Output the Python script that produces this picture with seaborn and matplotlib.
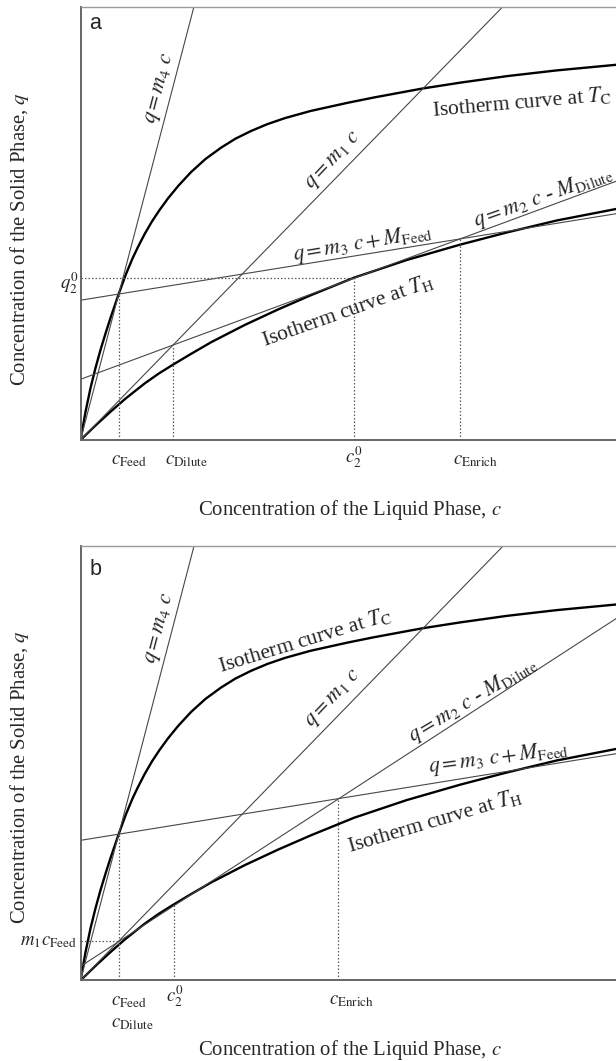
import matplotlib
matplotlib.use("Agg")
import matplotlib.pyplot as plt
import seaborn as sns
import pandas as pd

# Isotherm at T_C (c, q)
tc_c = [0, 0.093, 0.187, 0.280, 0.373, 0.467, 0.560, 0.713, 0.850, 0.971, 1.064,
        1.195, 1.335, 1.475, 1.634, 1.830, 2.064, 2.334, 2.624, 2.894, 3.184,
        3.492, 3.819, 4.295, 4.995, 5.468, 6.377, 7.096, 7.965, 8.893, 10.0]
tc_q = [0, 0.646, 1.200, 1.662, 2.077, 2.458, 2.816, 3.370, 3.831, 4.189, 4.431,
        4.747, 5.045, 5.306, 5.576, 5.871, 6.183, 6.485, 6.746, 6.954, 7.131,
        7.291, 7.429, 7.593, 7.784, 7.902, 8.110, 8.248, 8.398, 8.530, 8.659]

# Isotherm at T_H (c, q)
th_c = [0, 0.280, 0.575, 0.840, 1.199, 1.457, 1.714, 2.054, 2.443, 3.066, 3.688,
        4.310, 5.107, 6.092, 7.100, 7.959, 8.893, 10.0]
th_q = [0, 0.335, 0.669, 0.955, 1.306, 1.530, 1.729, 1.980, 2.259, 2.654, 3.012,
        3.346, 3.746, 4.154, 4.512, 4.789, 5.066, 5.331]

# Operating lines: slopes and intercepts
m4 = 4.72
m1 = 1.268
m3, M_feed = 0.1996, 3.226
m2_a, b2_a = 0.457, 1.401
m2_b, b2_b = 0.801, 0.323

# Characteristic concentrations, panel a
a_c_feed, a_c_dilute, a_c2, a_c_enrich = 0.713, 1.727, 5.107, 7.09
a_q2 = 3.746
# Characteristic concentrations, panel b
b_c_feed, b_c2, b_c_enrich = 0.713, 1.746, 4.814
b_q2_on_th = 1.745
b_m1_cfeed = m1 * b_c_feed

sns.set_theme(style="white")
plt.rcParams["font.family"] = ["Liberation Serif", "DejaVu Serif"]
plt.rcParams["mathtext.fontset"] = "stix"

W, H = 616, 1061
fig = plt.figure(figsize=(W / 100, H / 100), dpi=100)
ax_a = fig.add_axes([80.5 / W, 1 - 440 / H, 535.5 / W, 433.3 / H])
ax_b = fig.add_axes([80.5 / W, 1 - 980.4 / H, 535.5 / W, 434.1 / H])

THIN = dict(color="#474747", lw=0.8)
DOT = dict(colors="#5a5a5a", linestyles=(0, (1.2, 1.6)), lw=0.9)
AFS = 14.9    # axis titles
LFS = 15.6    # in-plot labels
TFS = 13.5    # tick-style labels


def frame(ax):
    ax.set_xlim(0, 10)
    ax.set_ylim(0, 10)
    ax.set_xticks([])
    ax.set_yticks([])
    ax.spines["right"].set_visible(False)
    for s in ("left", "bottom"):
        ax.spines[s].set_color("#666666")
        ax.spines[s].set_linewidth(1.4)
    ax.spines["top"].set_color("#9a9a9a")
    ax.spines["top"].set_linewidth(1.0)
    ax.set_xlabel("")
    ax.set_ylabel("")
    ax.text(0.5027, -0.173, r"Concentration of the Liquid Phase, $c$",
            transform=ax.transAxes, ha="center", va="baseline", fontsize=AFS)


def curves(ax):
    df_c = pd.DataFrame({"c": tc_c, "q": tc_q})
    df_h = pd.DataFrame({"c": th_c, "q": th_q})
    for df in (df_c, df_h):
        sns.lineplot(data=df, x="c", y="q", ax=ax, color="black", lw=1.7,
                     sort=False, estimator=None, solid_joinstyle="round",
                     solid_capstyle="round")
    ax.axline((0, 0), slope=m4, **THIN)
    ax.axline((0, 0), slope=m1, **THIN)
    ax.axline((0, M_feed), slope=m3, **THIN)


def tick_label(ax, x, s, dx=-7.5, dy=-24):
    ax.annotate(s, xy=(x, 0), xytext=(dx, dy), textcoords="offset pixels",
                ha="left", va="baseline", fontsize=TFS, annotation_clip=False)


def ylabel(ax, yfrac):
    ax.text(-0.1036, yfrac, r"Concentration of the Solid Phase, $q$",
            transform=ax.transAxes, rotation=90, rotation_mode="anchor",
            ha="center", va="baseline", fontsize=AFS)


def label(ax, x, y, s, rot):
    ax.text(x, y, s, rotation=rot, ha="center", va="center",
            rotation_mode="anchor", fontsize=LFS)


# ---------------- panel a ----------------
ax = ax_a
curves(ax)
ax.axline((0, b2_a), slope=m2_a, **THIN)
ax.vlines(a_c_feed, 0, M_feed + m3 * a_c_feed, **DOT)
ax.vlines(a_c_dilute, 0, m1 * a_c_dilute, **DOT)
ax.vlines(a_c2, 0, a_q2, **DOT)
ax.vlines(a_c_enrich, 0, M_feed + m3 * a_c_enrich, **DOT)
ax.hlines(a_q2, 0, a_c2, **DOT)
frame(ax)
ylabel(ax, 0.464)
ax.text(0.0168, 0.948, "a", transform=ax.transAxes, ha="left", va="baseline",
        fontsize=15.5, family="Liberation Sans")

tick_label(ax, a_c_feed, r"$c_{\mathrm{Feed}}$")
tick_label(ax, a_c_dilute, r"$c_{\mathrm{Dilute}}$")
tick_label(ax, a_c2, r"$c_2^0$", dx=-8.5, dy=-23)
tick_label(ax, a_c_enrich, r"$c_{\mathrm{Enrich}}$")
ax.annotate(r"$q_2^0$", xy=(0, a_q2), xytext=(-2, -11), textcoords="offset pixels",
            ha="right", va="baseline", fontsize=TFS, annotation_clip=False)

label(ax, 1.50, 8.117, r"$q = m_4\ c$", 75.3)
label(ax, 4.734, 6.43, r"$q = m_1\ c$", 46.5)
label(ax, 8.245, 7.80, r"Isotherm curve at $T_{\mathrm{C}}$", 5)
label(ax, 8.642, 5.597, r"$q = m_2\ c$ - $M_{\mathrm{Dilute}}$", 19.5)
label(ax, 5.276, 4.546, r"$q = m_3\ c + M_{\mathrm{Feed}}$", 9.5)
label(ax, 4.988, 2.989, r"Isotherm curve at $T_{\mathrm{H}}$", 19.5)

# ---------------- panel b ----------------
ax = ax_b
curves(ax)
ax.axline((0, b2_b), slope=m2_b, **THIN)
ax.vlines(b_c_feed, 0, M_feed + m3 * b_c_feed, **DOT)
ax.vlines(b_c2, 0, b_q2_on_th, **DOT)
ax.vlines(b_c_enrich, 0, M_feed + m3 * b_c_enrich, **DOT)
ax.hlines(b_m1_cfeed, 0, b_c_feed, **DOT)
frame(ax)
ylabel(ax, 0.4685)
ax.text(0.0168, 0.934, "b", transform=ax.transAxes, ha="left", va="baseline",
        fontsize=15.5, family="Liberation Sans")

tick_label(ax, b_c_feed, r"$c_{\mathrm{Feed}}$", dy=-24.5)
tick_label(ax, b_c_feed, r"$c_{\mathrm{Dilute}}$", dy=-46.5)
tick_label(ax, b_c2, r"$c_2^0$", dx=-8.3, dy=-21.5)
tick_label(ax, b_c_enrich, r"$c_{\mathrm{Enrich}}$", dx=-9, dy=-24)
ax.annotate(r"$m_1c_{\mathrm{Feed}}$", xy=(0, b_m1_cfeed), xytext=(-4, -4),
            textcoords="offset pixels", ha="right", va="baseline", fontsize=TFS,
            annotation_clip=False)

label(ax, 1.50, 8.111, r"$q = m_4\ c$", 75.3)
label(ax, 4.19, 7.84, r"Isotherm curve at $T_{\mathrm{C}}$", 17)
label(ax, 4.73, 6.478, r"$q = m_1\ c$", 46.5)
label(ax, 7.316, 6.459, r"$q = m_2\ c$ - $M_{\mathrm{Dilute}}$", 31)
label(ax, 7.802, 5.116, r"$q = m_3\ c + M_{\mathrm{Feed}}$", 7.5)
label(ax, 6.61, 3.683, r"Isotherm curve at $T_{\mathrm{H}}$", 16.5)

fig.savefig("out.png", dpi=100, facecolor="white")
